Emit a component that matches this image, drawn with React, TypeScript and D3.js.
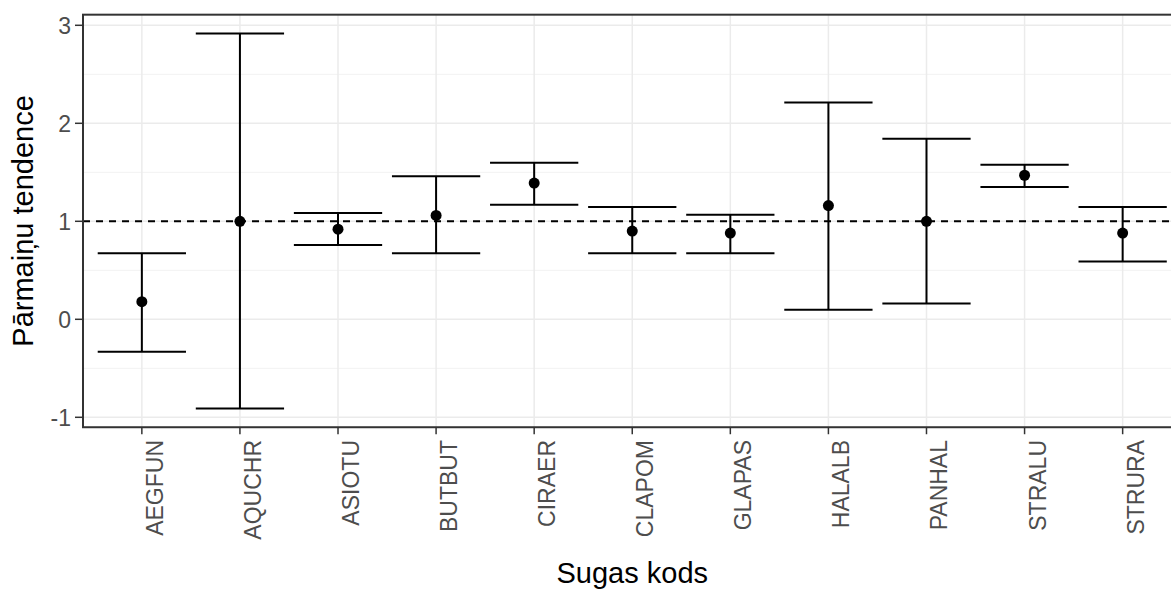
import React from 'react';
import * as d3 from 'd3';

// species codes and trend estimates with confidence limits
const species = ['AEGFUN', 'AQUCHR', 'ASIOTU', 'BUTBUT', 'CIRAER', 'CLAPOM', 'GLAPAS', 'HALALB', 'PANHAL', 'STRALU', 'STRURA'];
const trend = [0.18, 1.0, 0.92, 1.06, 1.39, 0.9, 0.88, 1.16, 1.0, 1.47, 0.88];
const lower = [-0.33, -0.91, 0.757, 0.675, 1.17, 0.675, 0.675, 0.098, 0.16, 1.351, 0.59];
const upper = [0.675, 2.917, 1.085, 1.46, 1.597, 1.146, 1.068, 2.211, 1.842, 1.576, 1.146];
const yTicks = [-1, 0, 1, 2, 3];

const W = 1171;
const H = 589;
const left = 83;
const right = 1181.5;
const font = 'Arial, "Liberation Sans", sans-serif';

export default function App() {
  const lo = d3.min(lower) as number;
  const hi = d3.max(upper) as number;
  const pad = (hi - lo) * 0.05;
  const yMin = lo - pad;
  const yMax = hi + pad;

  const y = d3.scaleLinear().domain([-1, 3]).range([417.3, 25.3]);
  const x = d3.scalePoint().domain(species).range([left, right]).padding(0.6);
  const step = x.step();
  const capHalf = step * 0.45;

  const top = y(yMax);
  const bottom = y(yMin);

  const minorY = d3.range(-0.5, 3.01, 1);

  return (
    <svg width={W} height={H} style={{ position: 'absolute', left: 0, top: 0, background: '#fff' }}>
      {/* grid */}
      <g>
        {minorY.map(v => (
          <line key={'m' + v} x1={left} x2={right} y1={y(v)} y2={y(v)} stroke="#f2f2f2" strokeWidth={1} />
        ))}
        {yTicks.map(v => (
          <line key={'g' + v} x1={left} x2={right} y1={y(v)} y2={y(v)} stroke="#ebebeb" strokeWidth={1.5} />
        ))}
        {species.map(s => (
          <line key={'v' + s} x1={x(s)} x2={x(s)} y1={top} y2={bottom} stroke="#ebebeb" strokeWidth={1.5} />
        ))}
      </g>

      {/* reference line */}
      <line x1={left} x2={right} y1={y(1)} y2={y(1)} stroke="#000" strokeWidth={2} strokeDasharray="7 6" />

      {/* error bars */}
      <g stroke="#000" strokeWidth={2}>
        {species.map((s, i) => {
          const cx = x(s) as number;
          return (
            <g key={s}>
              <line x1={cx} x2={cx} y1={y(lower[i])} y2={y(upper[i])} />
              <line x1={cx - capHalf} x2={cx + capHalf} y1={y(upper[i])} y2={y(upper[i])} />
              <line x1={cx - capHalf} x2={cx + capHalf} y1={y(lower[i])} y2={y(lower[i])} />
            </g>
          );
        })}
      </g>
      {species.map((s, i) => (
        <circle key={'p' + s} cx={x(s)} cy={y(trend[i])} r={5.5} fill="#000" />
      ))}

      {/* panel border */}
      <rect x={left} y={top} width={right - left} height={bottom - top} fill="none" stroke="#333" strokeWidth={2} />

      {/* y axis */}
      {yTicks.map(v => (
        <g key={'yt' + v}>
          <line x1={left - 8} x2={left} y1={y(v)} y2={y(v)} stroke="#333" strokeWidth={1.5} />
          <text x={left - 12} y={y(v)} dy="0.36em" textAnchor="end" fontFamily={font} fontSize={23} fill="#4d4d4d">
            {v}
          </text>
        </g>
      ))}

      {/* x axis */}
      {species.map(s => (
        <g key={'xt' + s}>
          <line x1={x(s)} x2={x(s)} y1={bottom} y2={bottom + 7} stroke="#333" strokeWidth={1.5} />
          <text
            transform={`translate(${(x(s) as number) + 21},440) rotate(-90)`}
            textAnchor="end"
            fontFamily={font}
            fontSize={23}
            fill="#4d4d4d"
          >
            {s}
          </text>
        </g>
      ))}

      {/* axis titles */}
      <text x={(left + right) / 2} y={583} textAnchor="middle" fontFamily={font} fontSize={29} fill="#000">
        Sugas kods
      </text>
      <text
        transform={`translate(33,${(top + bottom) / 2}) rotate(-90)`}
        textAnchor="middle"
        fontFamily={font}
        fontSize={29}
        fill="#000"
      >
        Pārmaiņu tendence
      </text>
    </svg>
  );
}
